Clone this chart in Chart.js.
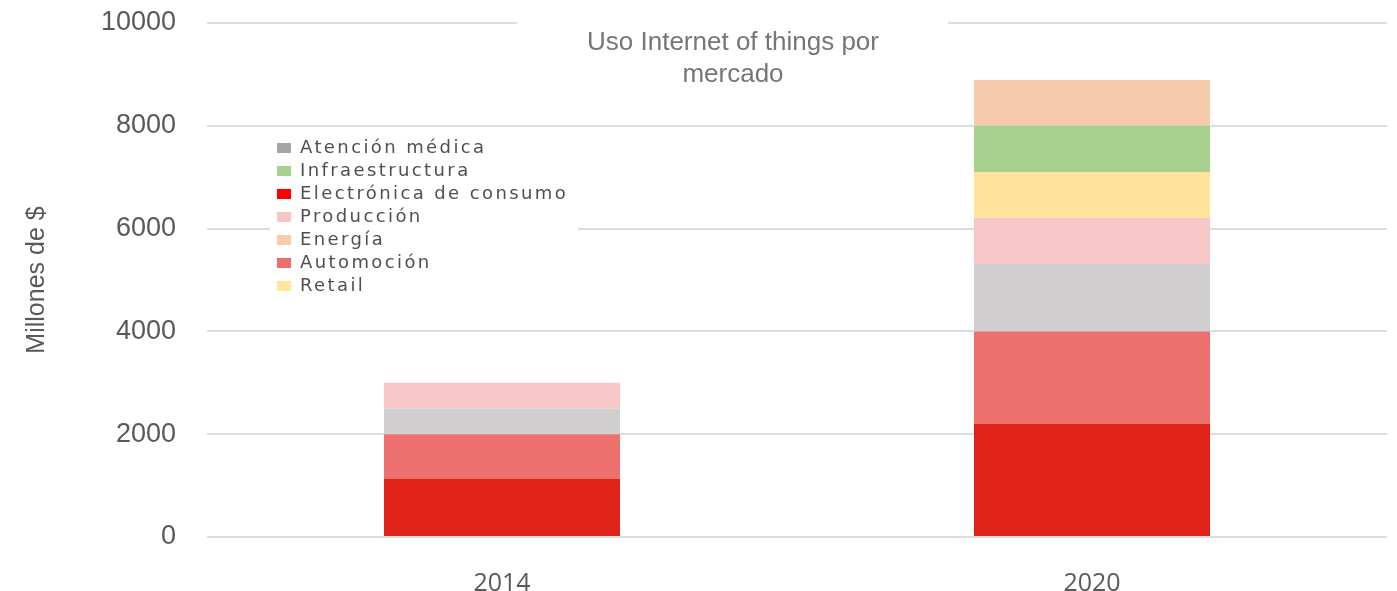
<!DOCTYPE html>
<html>
<head>
<meta charset="utf-8">
<script src="https://cdn.jsdelivr.net/npm/chart.js@4/dist/chart.umd.min.js"></script>
<style>
  html, body { margin: 0; padding: 0; background: #fff; }
</style>
</head>
<body>
<canvas id="iot" width="1397" height="591"></canvas>
<script>
const years = ["2014", "2020"];

// segmentos de abajo hacia arriba
const markets = [
  "Electrónica de consumo",
  "Automoción",
  "Atención médica",
  "Producción",
  "Retail",
  "Infraestructura",
  "Energía",
];
const electronica = [1140, 2200];
const automocion = [860, 1800];
const atencion = [500, 1310];
const produccion = [500, 900];
const retail = [0, 890];
const infraestructura = [0, 900];
const energia = [0, 890];
const values = [electronica, automocion, atencion, produccion, retail, infraestructura, energia];

const legendOrder = [
  "Atención médica",
  "Infraestructura",
  "Electrónica de consumo",
  "Producción",
  "Energía",
  "Automoción",
  "Retail",
];
const yTicks = [0, 2000, 4000, 6000, 8000, 10000];
const titleLines = ["Uso Internet of things por", "mercado"];
const yTitle = "Millones de $";

const barColors = ["#E1241A", "#EC706D", "#D0CECE", "#F7C6C6", "#FFE398", "#A9D18E", "#F7CAAC"];
const legendColors = ["#FF0000", "#EC6F6D", "#A6A4A5", "#F8C5C7", "#FFE699", "#A9D18E", "#F8CBAD"];

const datasets = markets.map((label, i) => ({
  label,
  data: values[i],
  backgroundColor: barColors[i],
  borderWidth: 0,
  barPercentage: 0.4,
  categoryPercentage: 1.0,
}));

// leyenda dentro del área y título encima de la línea de 10000
const overlay = {
  id: "overlay",
  afterLayout(chart) {
    const lg = chart.legend;
    lg.left = 272;
    lg.top = 134;
    lg.right = 610;
    lg.bottom = 310;
  },
  afterDraw(chart) {
    const ctx = chart.ctx;
    ctx.save();
    ctx.fillStyle = "#fff";
    ctx.fillRect(270, 132, 308, 172);
    ctx.fillRect(517, 8, 431, 92);
    ctx.letterSpacing = "2.4px";
    chart.legend.draw();
    ctx.restore();

    ctx.save();
    ctx.font = "26px 'Liberation Sans', Arial, sans-serif";
    ctx.fillStyle = "#767676";
    ctx.textAlign = "center";
    ctx.textBaseline = "alphabetic";
    titleLines.forEach((t, i) => ctx.fillText(t, 733, 50 + i * 32));
    ctx.restore();
  },
};

new Chart(document.getElementById("iot"), {
  type: "bar",
  data: { labels: years, datasets },
  plugins: [overlay],
  options: {
    responsive: false,
    animation: false,
    devicePixelRatio: 1,
    layout: { padding: { top: 23, right: 10, left: 0, bottom: 0 } },
    plugins: {
      title: { display: false },
      tooltip: { enabled: false },
      legend: {
        position: "chartArea",
        fullSize: false,
        align: "start",
        labels: {
          font: { family: "'DejaVu Sans'", size: 18 },
          color: "#505050",
          boxWidth: 14,
          boxHeight: 10,
          padding: 5,
          generateLabels(chart) {
            const items = Chart.defaults.plugins.legend.labels.generateLabels(chart);
            items.forEach((it) => {
              const c = legendColors[markets.indexOf(it.text)];
              it.fillStyle = c;
              it.strokeStyle = c;
              it.lineWidth = 0;
            });
            return items;
          },
          sort: (a, b) => legendOrder.indexOf(a.text) - legendOrder.indexOf(b.text),
        },
      },
    },
    scales: {
      x: {
        stacked: true,
        grid: { display: false },
        border: { display: false },
        ticks: {
          color: "#595959",
          font: { family: "'Open Sans'", size: 25 },
          padding: 24,
        },
        afterFit: (s) => { s.height = 54; },
      },
      y: {
        stacked: true,
        min: yTicks[0],
        max: yTicks[yTicks.length - 1],
        afterBuildTicks: (s) => { s.ticks = yTicks.map((v) => ({ value: v })); },
        grid: { color: "#DCDCDC", lineWidth: 2, drawTicks: false },
        border: { display: false },
        ticks: {
          color: "#595959",
          font: { family: "'Liberation Sans'", size: 27 },
          padding: 31,
          callback: (v) => String(v),
        },
        title: {
          display: true,
          text: yTitle,
          color: "#595959",
          font: { family: "'Liberation Sans'", size: 25 },
          padding: { top: 22, bottom: 0 },
        },
        afterFit: (s) => {
          s.width = 207;
          s.paddingTop = 0;
          s.paddingBottom = 0;
        },
      },
    },
  },
});
</script>
</body>
</html>
